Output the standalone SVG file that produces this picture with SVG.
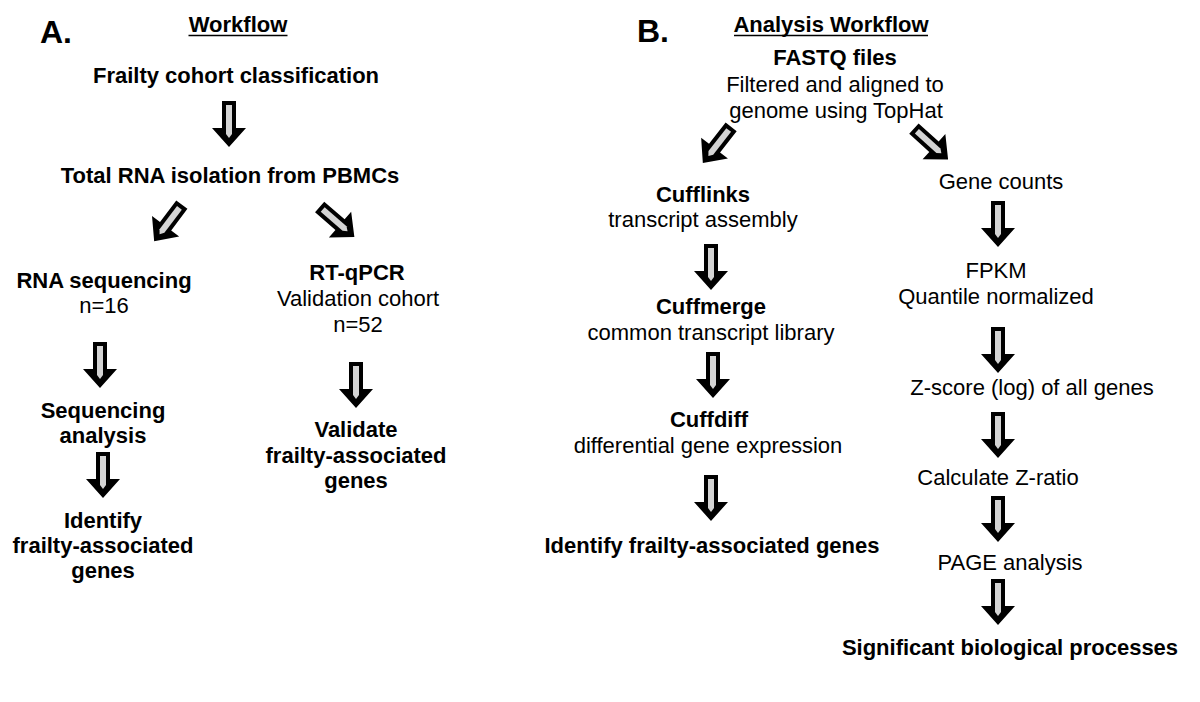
<svg xmlns="http://www.w3.org/2000/svg" xmlns:xlink="http://www.w3.org/1999/xlink" width="1200" height="702" viewBox="0 0 1200 702">
<defs>
<style>
text{font-family:"Liberation Sans",Arial,sans-serif;fill:#000;font-size:22px}
.b{font-weight:bold}
.m{text-anchor:middle}
.lbl{font-weight:bold;font-size:32px}
.ul{stroke:#000;stroke-width:1.6}
.ao{fill:#000}
.ai{fill:#d4d4d4}
</style>
<g id="arr">
<path class="ao" d="M-7,0 H7 V27 H17 L0,46 L-17,27 H-7 Z"/>
<path class="ai" d="M-3,4 H3 V33 L0,37 L-3,33 Z"/>
</g>
</defs>
<rect width="1200" height="702" fill="#fff"/>

<g id="panelA">
<text id="labelA" class="lbl" x="40" y="43">A.</text>
<g id="titleA"><text class="b m" x="238" y="32">Workflow</text><line class="ul" x1="188.5" y1="35.5" x2="287.5" y2="35.5"/></g>
<g id="a1"><text class="b m" x="236" y="83">Frailty cohort classification</text></g>
<g id="a2"><text class="b m" x="230" y="183">Total RNA isolation from PBMCs</text></g>
<g id="a3"><text class="b m" x="104" y="288">RNA sequencing</text><text class="m" x="104" y="313">n=16</text></g>
<g id="a4"><text class="b m" x="357" y="280">RT-qPCR</text><text class="m" x="358" y="306">Validation cohort</text><text class="m" x="358" y="332">n=52</text></g>
<g id="a5"><text class="b m" x="103" y="418">Sequencing</text><text class="b m" x="103" y="443">analysis</text></g>
<g id="a6"><text class="b m" x="103" y="528">Identify</text><text class="b m" x="103" y="553">frailty-associated</text><text class="b m" x="103" y="578">genes</text></g>
<g id="a7"><text class="b m" x="356" y="437">Validate</text><text class="b m" x="356" y="463">frailty-associated</text><text class="b m" x="356" y="488">genes</text></g>
</g>

<g id="panelB">
<text id="labelB" class="lbl" x="637" y="42">B.</text>
<g id="titleB"><text class="b m" x="831" y="32">Analysis Workflow</text><line class="ul" x1="734" y1="35.5" x2="928" y2="35.5"/></g>
<g id="b1"><text class="b m" x="835" y="65">FASTQ files</text><text class="m" x="835" y="92">Filtered and aligned to</text><text class="m" x="836" y="118">genome using TopHat</text></g>
<g id="b2"><text class="b m" x="703" y="202">Cufflinks</text><text class="m" x="703" y="227">transcript assembly</text></g>
<g id="b3"><text class="b m" x="711" y="314">Cuffmerge</text><text class="m" x="711" y="340">common transcript library</text></g>
<g id="b4"><text class="b m" x="709" y="427">Cuffdiff</text><text class="m" x="708" y="453">differential gene expression</text></g>
<g id="b5"><text class="b m" x="712" y="553">Identify frailty-associated genes</text></g>
<g id="b6"><text class="m" x="1001" y="189">Gene counts</text></g>
<g id="b7"><text class="m" x="996" y="278">FPKM</text><text class="m" x="996" y="304">Quantile normalized</text></g>
<g id="b8"><text class="m" x="1032" y="395">Z-score (log) of all genes</text></g>
<g id="b9"><text class="m" x="998" y="485">Calculate Z-ratio</text></g>
<g id="b10"><text class="m" x="1010" y="570">PAGE analysis</text></g>
<g id="b11"><text class="b m" x="1010" y="655">Significant biological processes</text></g>
</g>

<g id="connectors">
<use xlink:href="#arr" transform="translate(229,101)"/>
<use xlink:href="#arr" transform="translate(168,223) rotate(37) translate(0,-23)"/>
<use xlink:href="#arr" transform="translate(337,222) rotate(-49) translate(0,-23)"/>
<use xlink:href="#arr" transform="translate(100,342)"/>
<use xlink:href="#arr" transform="translate(103,452)"/>
<use xlink:href="#arr" transform="translate(356,362)"/>
<use xlink:href="#arr" transform="translate(717,145) rotate(38) translate(0,-23)"/>
<use xlink:href="#arr" transform="translate(931,144) rotate(-48) translate(0,-23)"/>
<use xlink:href="#arr" transform="translate(711,244)"/>
<use xlink:href="#arr" transform="translate(713,352)"/>
<use xlink:href="#arr" transform="translate(711,475)"/>
<use xlink:href="#arr" transform="translate(998,201)"/>
<use xlink:href="#arr" transform="translate(998,327)"/>
<use xlink:href="#arr" transform="translate(998,412)"/>
<use xlink:href="#arr" transform="translate(998,496)"/>
<use xlink:href="#arr" transform="translate(998,579)"/>
</g>
</svg>
